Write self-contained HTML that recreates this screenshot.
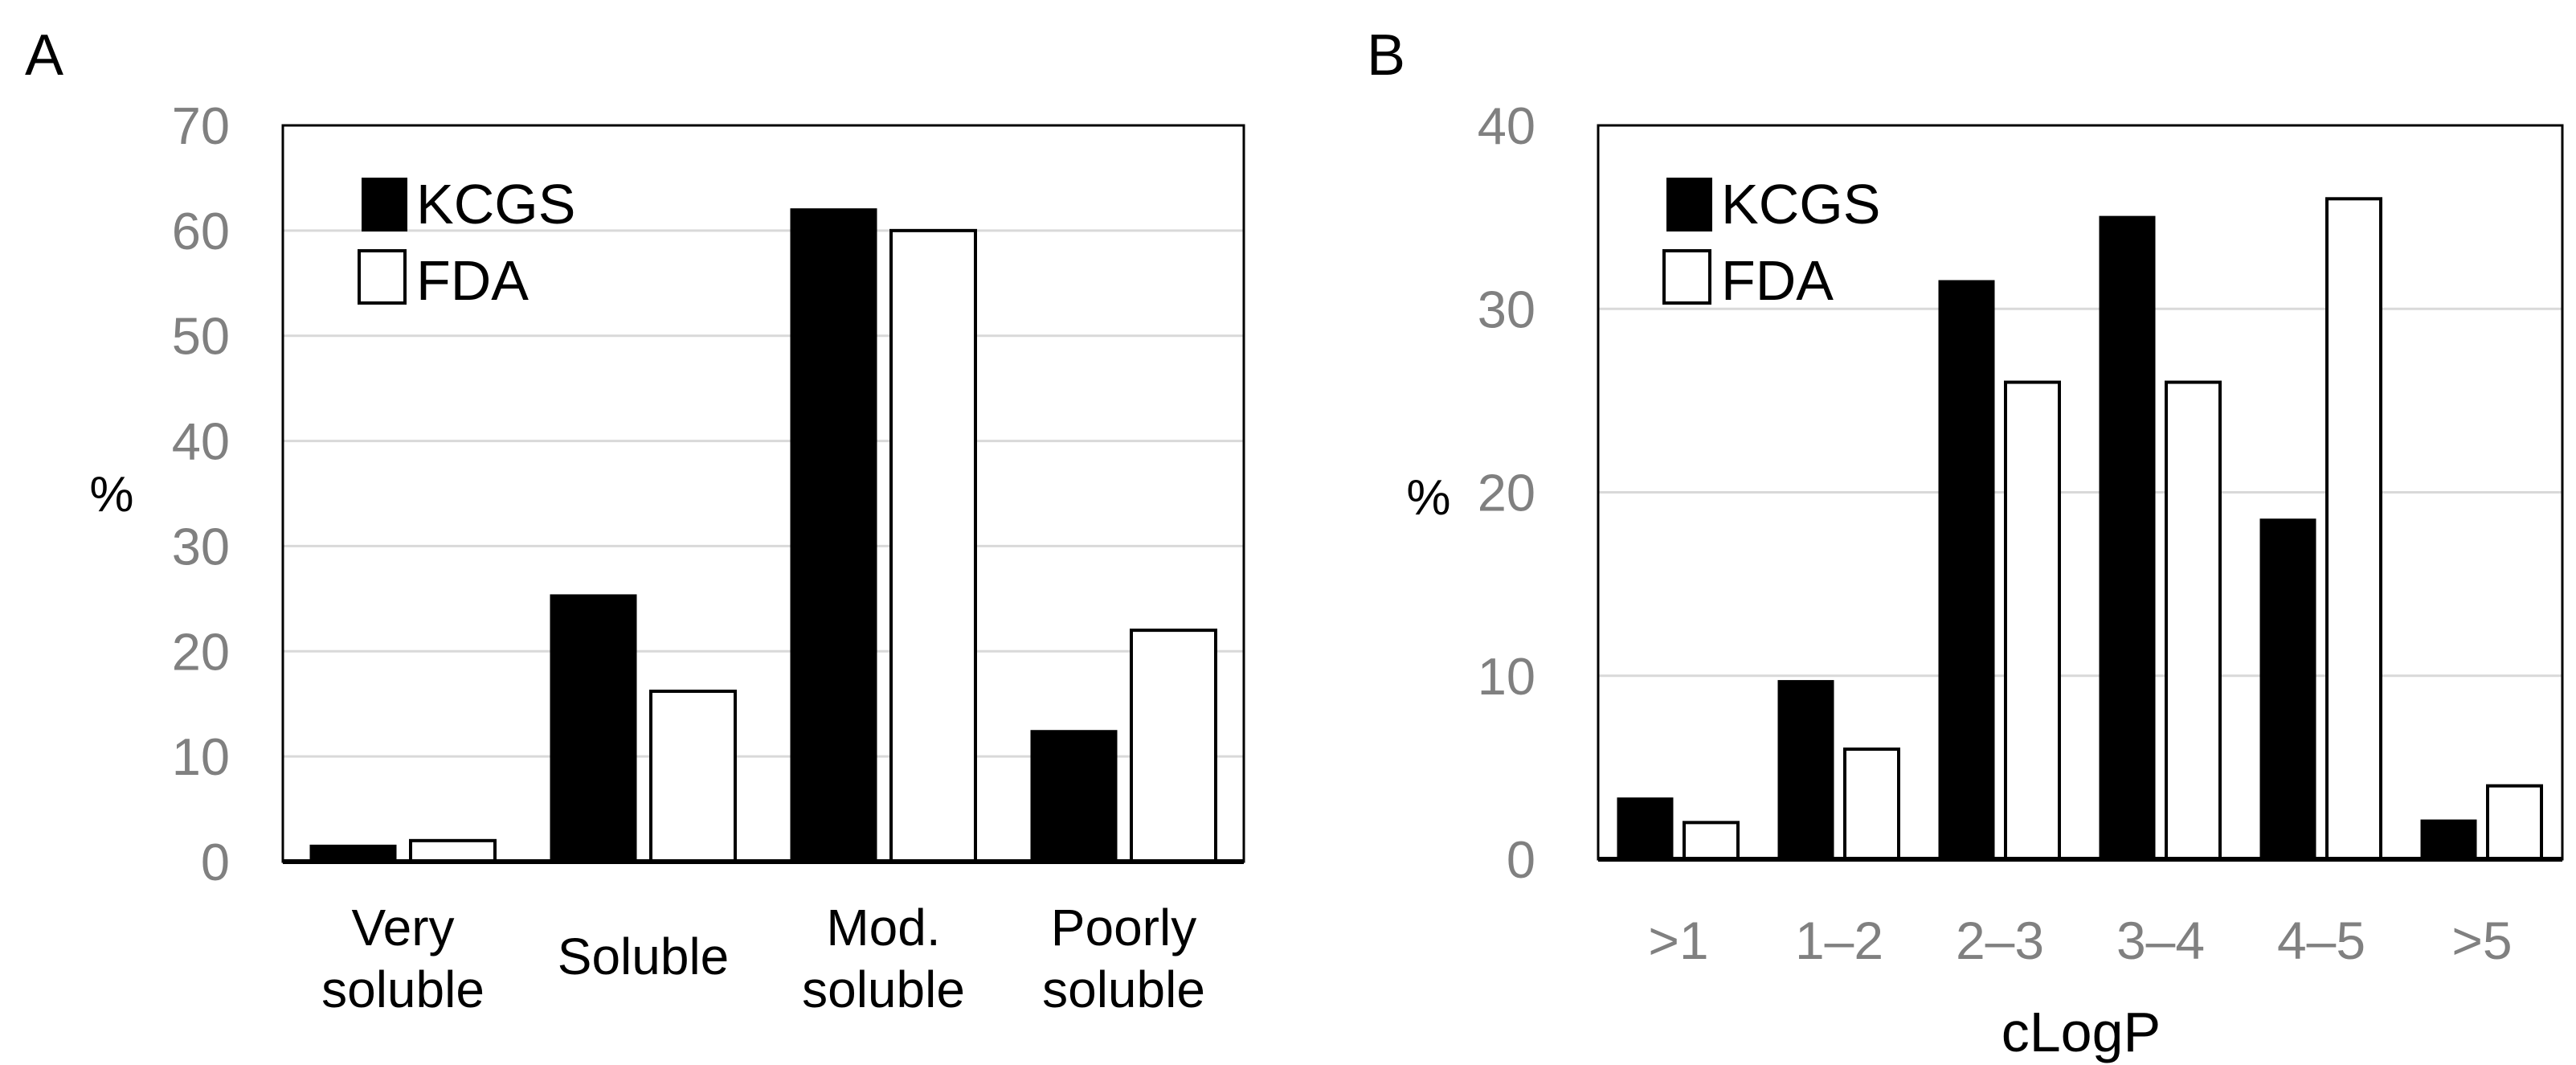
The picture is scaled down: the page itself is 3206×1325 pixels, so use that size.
<!DOCTYPE html>
<html><head><meta charset="utf-8"><style>
html,body{margin:0;padding:0;background:#fff;}
svg{display:block;font-family:"Liberation Sans",sans-serif;}
</style></head><body>
<svg id="c" width="3206" height="1325" viewBox="0 0 3206 1325">
<text x="31" y="93" font-size="72">A</text>
<text x="1701" y="93" font-size="72">B</text>
<g id="ga"></g>
<g id="gb"></g>
</svg>
<script>
const catsA = [["Very","soluble"],["Soluble"],["Mod.","soluble"],["Poorly","soluble"]];
const kcgsA = [1.5, 25.3, 62, 12.4];
const fdaA = [2, 16.2, 60, 22];
const ticksA = [0,10,20,30,40,50,60,70];
const catsB = [">1","1\u20132","2\u20133","3\u20134","4\u20135",">5"];
const kcgsB = [3.3, 9.7, 31.5, 35, 18.5, 2.1];
const fdaB = [2, 6, 26, 26, 36, 4];
const ticksB = [0,10,20,30,40];
const NS="http://www.w3.org/2000/svg";
function mk(p,t,a){const e=document.createElementNS(NS,t);for(const k in a)e.setAttribute(k,a[k]);p.appendChild(e);return e;}
function chart(g,o){
  const L=o.left,R=o.right,T=o.top,B=o.bottom,max=o.max;
  const y=v=>B-(v/max)*(B-T);
  const cw=(R-L)/o.cats.length;
  o.ticks.forEach(t=>{
    if(t>0&&t<max){const gl=mk(g,'line',{x1:L,x2:R,y1:y(t),y2:y(t),stroke:'#d9d9d9','stroke-width':3});
    
    }
    const tx=mk(g,'text',{x:o.tickX,y:y(t)+23,'font-size':65,fill:'#808080','text-anchor':'end'});
    tx.textContent=t;
    
    
  });
  const fr=mk(g,'rect',{x:L,y:T,width:R-L,height:B-T,fill:'none',stroke:'#000','stroke-width':3});
  
  
  o.cats.forEach((c,i)=>{
    const x0=L+i*cw+o.off;
    const b1=mk(g,'rect',{x:x0,y:y(o.k[i]),width:o.bw,height:B-y(o.k[i]),fill:'#000',stroke:'#000','stroke-width':3});
    
    
    const x1=x0+o.bw+o.gap;
    const b2=mk(g,'rect',{x:x1,y:y(o.f[i]),width:o.bw,height:B-y(o.f[i]),fill:'#fff',stroke:'#000','stroke-width':4});
    
    
    const cx=L+i*cw+cw/2;
    const lines=Array.isArray(c)?c:[c];
    lines.forEach((ln,j)=>{
      const yy=lines.length===1?o.lab1:(j===0?o.labA:o.labB);
      const t=mk(g,'text',{x:cx,y:yy,'font-size':o.labSize,fill:o.labColor,'text-anchor':'middle'});
      t.textContent=ln;
      
      
    });
  });
  const ax=mk(g,'line',{x1:L,x2:R,y1:B,y2:B,stroke:'#000','stroke-width':6});
  
  
  const p=mk(g,'text',{x:o.pctX,y:o.pctY,'font-size':62,fill:'#000','text-anchor':'middle'});
  p.textContent='%';
  
  
  const s1=mk(g,'rect',{x:o.legX,y:221,width:57,height:67,fill:'#000'});
  
  
  const t1=mk(g,'text',{x:o.legX+68,y:278,'font-size':70,fill:'#000'});
  t1.textContent='KCGS';
  
  
  const s2=mk(g,'rect',{x:o.legX-3,y:312,width:57,height:65,fill:'#fff',stroke:'#000','stroke-width':4});
  
  
  const t2=mk(g,'text',{x:o.legX+68,y:373,'font-size':70,fill:'#000'});
  t2.textContent='FDA';
  
  
}
chart(document.getElementById('ga'),{left:352,right:1548,top:156,bottom:1072,max:70,cats:catsA,k:kcgsA,f:fdaA,ticks:ticksA,
  off:35,bw:105,gap:19,tickX:286,pctX:139,pctY:636,legX:450,labSize:64,labColor:'#000',lab1:1212,labA:1176,labB:1253});
chart(document.getElementById('gb'),{left:1989,right:3189,top:156,bottom:1069,max:40,cats:catsB,k:kcgsB,f:fdaB,ticks:ticksB,
  off:25,bw:67,gap:15,tickX:1911,pctX:1778,pctY:640,legX:2074,labSize:66,labColor:'#808080',lab1:1193,labA:0,labB:0});
const xt=mk(document.getElementById('gb'),'text',{x:2590,y:1308,'font-size':70,fill:'#000','text-anchor':'middle'});
xt.textContent='cLogP';


</script>
</body></html>
